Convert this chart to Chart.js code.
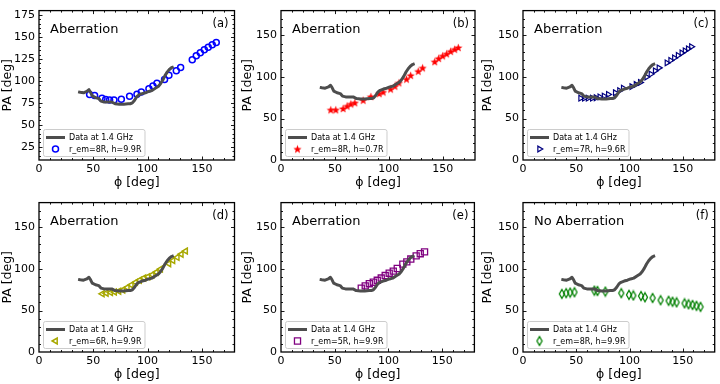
<!DOCTYPE html>
<html><head><meta charset="utf-8">
<script src="https://cdn.jsdelivr.net/npm/chart.js@4/dist/chart.umd.min.js"></script>
<style>
html,body{margin:0;padding:0;background:#fff;}
#wrap{position:relative;width:720px;height:384px;overflow:hidden;}
#wrap canvas{position:absolute;}
</style></head><body><div id="wrap"></div>
<script>
// ---- observed data (gray line, same in all panels) ----
const obsPhi = [36,38,41,44,46,47.5,49,52,55,57,60,64,67,70,74,78,82,84,86,88,90,92,95,98,101,104,107,110,112,114,116,118,120,122,124];
const obsPA  = [87.5,87,86.5,88,90,87,83,81,80,77,76,76,76,74,73.5,73.5,74,74,75,78,82,84,85.5,86.5,88,89,91.5,94,97,101,106,110,113,115,116];

// ---- model curves ----
const phiA = [46.6,51.2,58,61.4,65,69,75.8,83.4,90.2,94.2,101.2,104.9,108.6,115.6,119.6,126.4,130.4,141.1,144.8,148.5,152.2,155.8,159.5,163.2];
const paA  = [84.5,83.4,80.2,78.8,78.4,78.4,79,82.4,84.9,87.4,91,94.3,97.2,101.5,106.5,111.6,115.2,124.2,128.5,132.1,135.4,138.3,141.1,143.7];

const phiB = [46.2,50.8,57.6,61.3,64.8,68.5,76.2,83.4,91.1,94.8,101.7,105.7,109.4,116.5,120.3,127.3,131.4,142.6,146.3,150,153.7,157.4,161.2,164.5];
const paB  = [60.5,60.5,62,65,67.5,69,72,76.5,80,82,85.5,89,93,97.5,102,107,111,118.5,122.5,125.5,128,131,133.5,135.5];

const phiC = [54,57.5,61,65,68.5,72,76,80,86.5,90.5,94,102,106,110,116,120,124,127.5,135,138.5,142,145.5,149,152,155,158];
const paC  = [74.5,74.5,74.5,74.5,75,76,77,79,81,83.5,86.5,88.5,91,93.5,100,103.5,107.5,111,117,120,123,126,129,131.5,134,136.5];

const phiD = [58.3,62,66,69.6,73.6,77.3,81.3,85,89,92.6,96.6,100.3,104.3,108,112,119.6,123.3,127.3,131,135];
const paD  = [70.1,70.9,71.6,72.4,73.2,74.7,77.8,80.8,83.9,86.5,89.2,90.7,93,96.1,99.9,106.4,110.2,114,117.8,121.6];

const phiE = [74.7,78.4,82.2,85.9,89.6,93.3,97,100.7,104.5,108.2,113.4,117.1,120.8,125.8,129.6,133.6];
const paE  = [76.9,79.6,82.3,84.1,86.4,89.1,92.1,94.9,97.5,100.6,105.9,108.6,112,115.8,118.4,120.7];

const phiF = [36.5,40.5,44.3,48.3,67,69.9,77.3,92.3,99.5,103.6,110.8,114.5,121.7,129.2,136.7,140.4,144.2,151.7,155.4,159.2,162.9,166.7];
const paF  = [70,70.9,71.6,72,73.9,73.5,72.8,70.9,68.9,68.1,67.4,65.9,65.1,62.4,61.7,60.6,59.8,58.6,57.5,56.7,55.6,54.4];

// ---- ticks / labels ----
const xTicks  = [0,50,100,150];
const yTicksA = [25,50,75,100,125,150,175];
const yTicksB = [0,50,100,150];
const panelTitles = ['Aberration','Aberration','Aberration','Aberration','Aberration','No Aberration'];
const panelTags   = ['(a)','(b)','(c)','(d)','(e)','(f)'];
const obsLabel    = 'Data at 1.4 GHz';
const modelLabels = ['r_em=8R, h=9.9R','r_em=8R, h=0.7R','r_em=7R, h=9.6R','r_em=6R, h=9.9R','r_em=5R, h=9.9R','r_em=8R, h=9.9R'];
const xTitle = 'ϕ [deg]';
const yTitle = 'PA [deg]';

// ---- marker images ----
function starImg(color, r){
  const c=document.createElement('canvas'); const s=Math.ceil(2*r+2); c.width=s; c.height=s;
  const g=c.getContext('2d'); g.fillStyle=color; g.beginPath();
  const cx=s/2, cy=s/2+0.5;
  for(let i=0;i<10;i++){const a=-Math.PI/2+i*Math.PI/5; const rr=i%2? r*0.42 : r; g.lineTo(cx+rr*Math.cos(a), cy+rr*Math.sin(a));}
  g.closePath(); g.fill(); return c;
}
function diamondImg(color, w, h){
  const c=document.createElement('canvas'); c.width=w+3; c.height=h+3;
  const g=c.getContext('2d'); g.strokeStyle=color; g.lineWidth=1.3; g.beginPath();
  const cx=c.width/2, cy=c.height/2;
  g.moveTo(cx,cy-h/2); g.lineTo(cx+w/2,cy); g.lineTo(cx,cy+h/2); g.lineTo(cx-w/2,cy); g.closePath(); g.stroke(); return c;
}

const panels = [
  {phi:phiA, pa:paA, yMin:10, yMax:180, yTicks:yTicksA, yMinor:5, left:39, style:{pointStyle:'circle', radius:3, color:'#0000ff', bw:1.5}},
  {phi:phiB, pa:paB, yMin:0, yMax:180, yTicks:yTicksB, yMinor:10, left:41, style:{pointStyle:starImg('#ff0000',4.4), radius:4, color:'#ff0000', bw:1}},
  {phi:phiC, pa:paC, yMin:0, yMax:180, yTicks:yTicksB, yMinor:10, left:43, style:{pointStyle:'triangle', rotation:90, radius:3.3, color:'#000080', bw:1.2}},
  {phi:phiD, pa:paD, yMin:0, yMax:180, yTicks:yTicksB, yMinor:10, left:39, style:{pointStyle:'triangle', rotation:-90, radius:3.4, color:'#a8a800', bw:1.5}},
  {phi:phiE, pa:paE, yMin:0, yMax:180, yTicks:yTicksB, yMinor:10, left:41, style:{pointStyle:'rect', radius:4.3, color:'#800080', bw:1.3}},
  {phi:phiF, pa:paF, yMin:0, yMax:180, yTicks:yTicksB, yMinor:10, left:43, style:{pointStyle:diamondImg('#008000',5,9), radius:4, color:'#008000', bw:1.3}},
];

const FONT = "'DejaVu Sans', sans-serif";
const wrap = document.getElementById('wrap');

panels.forEach((p, i) => {
  const col = i % 3, row = Math.floor(i / 3);
  const cv = document.createElement('canvas');
  cv.width = 240; cv.height = 192;
  cv.style.left = (col*240)+'px'; cv.style.top = (row*192)+'px';
  cv.style.width='240px'; cv.style.height='192px';
  wrap.appendChild(cv);

  const decor = {
    id: 'decor'+i,
    afterDatasetsDraw(chart){
      const ctx = chart.ctx, ca = chart.chartArea;
      const xs = chart.scales.x, ys = chart.scales.y;
      ctx.save();
      ctx.strokeStyle = '#000'; ctx.lineWidth = 0.9;
      ctx.beginPath();
      for (let v = 0; v <= 180; v += 10) {
        const px = Math.round(xs.getPixelForValue(v)) + 0.5;
        const L = (v % 50 === 0) ? 3.5 : 2;
        if (px <= ca.left+1 || px >= ca.right-1) continue;
        ctx.moveTo(px, ca.bottom); ctx.lineTo(px, ca.bottom - L);
        ctx.moveTo(px, ca.top); ctx.lineTo(px, ca.top + L);
      }
      const major = p.yTicks[1]-p.yTicks[0];
      for (let v = p.yMin; v <= p.yMax; v += p.yMinor) {
        const py = Math.round(ys.getPixelForValue(v)) + 0.5;
        const L = ((v - p.yTicks[0]) % major === 0) ? 3.5 : 2;
        if (py <= ca.top+1 || py >= ca.bottom-1) continue;
        ctx.moveTo(ca.left, py); ctx.lineTo(ca.left + L, py);
        ctx.moveTo(ca.right, py); ctx.lineTo(ca.right - L, py);
      }
      ctx.stroke();
      ctx.lineWidth = 1.3;
      ctx.strokeRect(ca.left, ca.top, ca.right - ca.left, ca.bottom - ca.top);

      ctx.fillStyle = '#000';
      ctx.font = '13px ' + FONT;
      ctx.textAlign = 'left'; ctx.textBaseline = 'alphabetic';
      ctx.fillText(panelTitles[i], ca.left + 11, ca.top + 22);
      ctx.font = '11.5px ' + FONT;
      ctx.textAlign = 'right'; ctx.textBaseline = 'middle';
      ctx.fillText(panelTags[i], ca.right - 6, ca.top + 13);

      ctx.font = '8px ' + FONT;
      const tw = Math.max(ctx.measureText(obsLabel).width, ctx.measureText(modelLabels[i]).width);
      const bw = 26 + tw + 3, bh = 27;
      const bx = ca.left + 4, by = ca.bottom - 4 - bh;
      ctx.beginPath();
      if (ctx.roundRect) ctx.roundRect(bx+0.5, by+0.5, bw, bh, 2); else ctx.rect(bx+0.5, by+0.5, bw, bh);
      ctx.fillStyle = 'rgba(255,255,255,0.85)'; ctx.fill();
      ctx.strokeStyle = '#cccccc'; ctx.lineWidth = 1; ctx.stroke();
      ctx.beginPath(); ctx.strokeStyle = '#4d4d4d'; ctx.lineWidth = 3;
      ctx.moveTo(bx + 3, by + 8.5); ctx.lineTo(bx + 22, by + 8.5); ctx.stroke();
      const st = p.style;
      ctx.strokeStyle = st.color; ctx.fillStyle = 'rgba(0,0,0,0)'; ctx.lineWidth = st.bw;
      Chart.helpers.drawPoint(ctx, {pointStyle: st.pointStyle, radius: st.radius, rotation: st.rotation || 0, borderWidth: st.bw}, bx + 12.5, by + 20);
      ctx.fillStyle = '#000'; ctx.textAlign = 'left'; ctx.textBaseline = 'middle';
      ctx.fillText(obsLabel, bx + 26, by + 8.5);
      ctx.fillText(modelLabels[i], bx + 26, by + 20.5);
      ctx.restore();
    }
  };

  new Chart(cv, {
    type: 'scatter',
    data: {
      datasets: [
        {
          type: 'line', label: obsLabel,
          data: obsPhi.map((x, k) => ({x, y: obsPA[k]})),
          borderColor: '#4d4d4d', borderWidth: 3, pointRadius: 0, fill: false, tension: 0,
          order: 0, borderJoinStyle: 'round'
        },
        {
          label: modelLabels[i],
          data: p.phi.map((x, k) => ({x, y: p.pa[k]})),
          pointStyle: p.style.pointStyle, pointRadius: p.style.radius, pointRotation: p.style.rotation || 0,
          borderColor: p.style.color, backgroundColor: 'rgba(0,0,0,0)', pointBorderWidth: p.style.bw,
          borderWidth: p.style.bw, showLine: false, order: 1
        }
      ]
    },
    options: {
      responsive: false, animation: false, devicePixelRatio: 1,
      layout: {padding: {top: 4, right: 5, left: 0, bottom: 0}},
      plugins: {legend: {display: false}, tooltip: {enabled: false}},
      scales: {
        x: {
          type: 'linear', min: 0, max: 180,
          afterBuildTicks: s => { s.ticks = xTicks.map(v => ({value: v})); },
          afterFit: s => { s.height = 32; },
          grid: {display: false, drawTicks: false}, border: {display: false},
          ticks: {padding: 3, color: '#000', font: {family: FONT, size: 11}, maxRotation: 0},
          title: {display: true, text: xTitle, color: '#000', font: {family: FONT, size: 12.5}, padding: {top: 0, bottom: 2}}
        },
        y: {
          type: 'linear', min: p.yMin, max: p.yMax,
          afterBuildTicks: s => { s.ticks = p.yTicks.map(v => ({value: v})); },
          afterFit: s => { s.width = p.left; },
          grid: {display: false, drawTicks: false}, border: {display: false},
          ticks: {padding: 4, color: '#000', font: {family: FONT, size: 11}},
          title: {display: true, text: yTitle, color: '#000', font: {family: FONT, size: 12.5}, padding: {top: 0, bottom: 0}}
        }
      }
    },
    plugins: [decor]
  });
});
</script>
</body></html>
